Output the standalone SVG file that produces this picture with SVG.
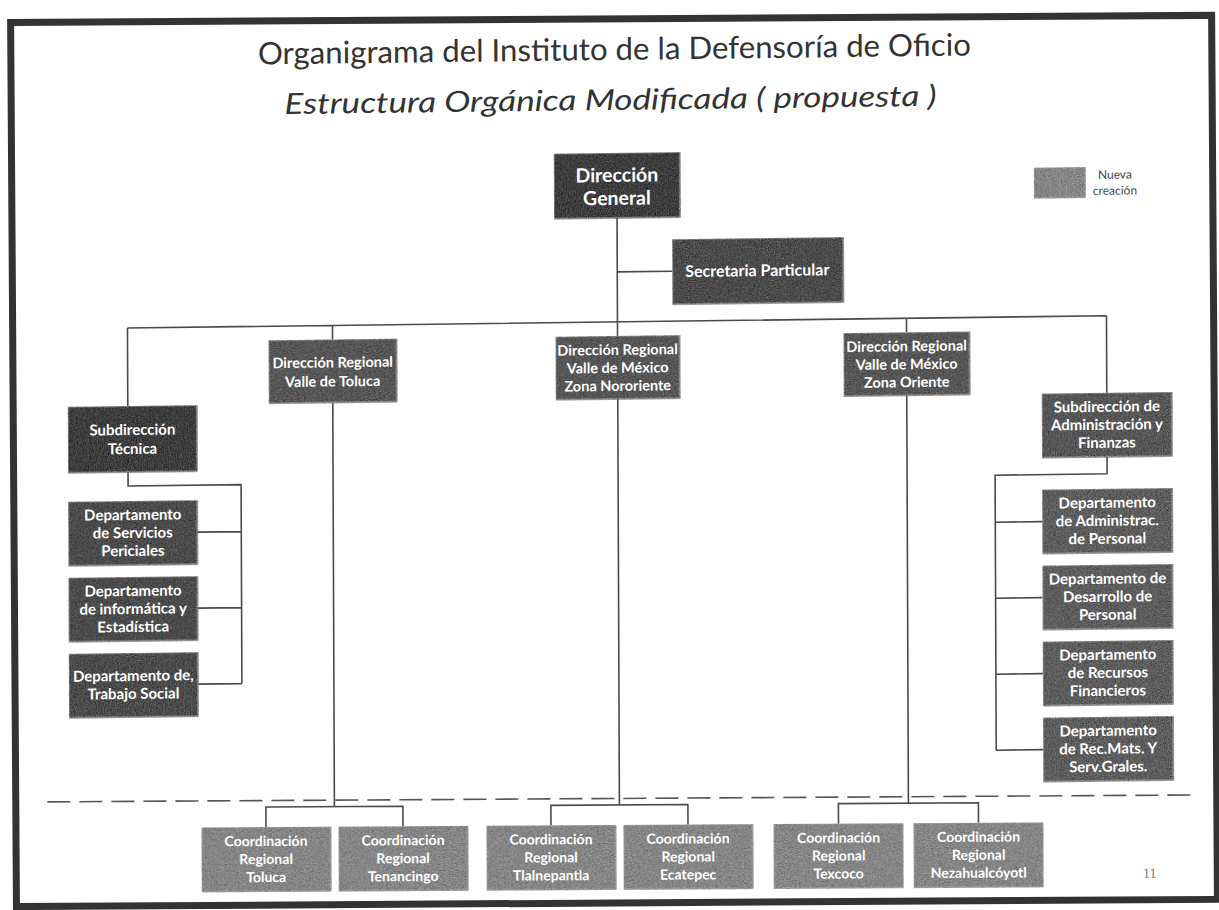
<svg xmlns="http://www.w3.org/2000/svg" width="1219" height="910" viewBox="0 0 1219 910">
<defs>
<filter id="grain" x="0" y="0" width="100%" height="100%" color-interpolation-filters="sRGB">
<feTurbulence type="fractalNoise" baseFrequency="0.85" numOctaves="2" seed="7" result="n"/>
<feColorMatrix in="n" type="matrix" values="0.33 0.33 0.33 0 0  0.33 0.33 0.33 0 0  0.33 0.33 0.33 0 0  0 0 0 0 1" result="g"/>
<feComposite in="SourceGraphic" in2="g" operator="arithmetic" k1="0" k2="1" k3="0.9" k4="-0.45" result="m"/>
<feComposite in="m" in2="SourceAlpha" operator="in"/>
</filter>
<style>
.box{stroke:#9a9a9a;stroke-width:1.2;filter:url(#grain)}
.d1{fill:#3e3e3e}
.d2{fill:#4c4c4c}
.d3{fill:#575757}
.d4{fill:#5e5e5e}
.nw{fill:#868686}
.t{font-family:Lato,"Open Sans","Liberation Sans",sans-serif;font-weight:bold;fill:#ffffff;text-anchor:middle;font-size:15px}
.s{font-size:14.5px}
.b{font-size:14px}
.dg{font-size:19.5px}
.sp{font-size:16px}
.c{fill:none;stroke:#4a4a4a;stroke-width:1.6}
.dash{fill:none;stroke:#555555;stroke-width:1.6;stroke-dasharray:23 9}
.title{font-family:Lato,"Open Sans","Liberation Sans",sans-serif;fill:#333333;text-anchor:middle}
.lg{font-family:Lato,"Open Sans",sans-serif;font-size:12px;fill:#444444;text-anchor:middle}
</style>
</defs>
<rect width="1219" height="910" fill="#ffffff"/>
<g id="frame" transform="matrix(1,-0.006,0.0066,1,-3,3.66)">
<rect x="13.5" y="19" width="1201" height="884" fill="none" stroke="#333333" stroke-width="7"/>
</g>
<g id="slide" transform="matrix(1,-0.0125,0.004,1,-1.82,7.625)">
<g id="title">
<text class="title" x="616" y="60" font-size="31" textLength="713" lengthAdjust="spacingAndGlyphs">Organigrama del Instituto de la Defensoría de Oficio</text>
<text class="title" x="612" y="110" font-size="29" font-style="italic" textLength="652" lengthAdjust="spacingAndGlyphs">Estructura Orgánica Modificada ( propuesta )</text>
</g>
<g id="connectors">
<path class="c" d="M618 218V322M618 272H673M128 322H1107M128 322V400M333 322V336M618 322V336M907 322V336M1107 322V399"/>
<path class="c" d="M128 466V480H241V679M197 527H241M197 603H241M197 679H241"/>
<path class="c" d="M1107 463V480H995V755M995 527H1042M995 603H1042M995 679H1042M995 755H1042"/>
<path class="c" d="M333 399V803.2M618 399V805.1M907 399V806.9"/>
</g>
<g id="legend">
<rect class="box nw" x="1035" y="173" width="51" height="30"/>
<text class="lg" x="1116" y="185">Nueva</text>
<text class="lg" x="1116" y="201">creación</text>
</g>
<g id="n-dg">
<rect class="box d1" x="555" y="153" width="126" height="65"/>
<text class="t dg" x="618" y="182">Dirección</text>
<text class="t dg" x="618" y="205">General</text>
</g>
<g id="n-sec">
<rect class="box d2" x="673" y="240" width="171" height="65"/>
<text class="t sp" x="758" y="278">Secretaria Particular</text>
</g>
<g id="n-drtoluca">
<rect class="box d3" x="269" y="336" width="128" height="63"/>
<text class="t s" x="333" y="364">Dirección Regional</text>
<text class="t s" x="333" y="383">Valle de Toluca</text>
</g>
<g id="n-drnororiente">
<rect class="box d3" x="556" y="336" width="124" height="63"/>
<text class="t s" x="618" y="355">Dirección Regional</text>
<text class="t s" x="618" y="373">Valle de México</text>
<text class="t s" x="618" y="391">Zona Nororiente</text>
</g>
<g id="n-droriente">
<rect class="box d3" x="844" y="336" width="126" height="63"/>
<text class="t s" x="907" y="355">Dirección Regional</text>
<text class="t s" x="907" y="373">Valle de México</text>
<text class="t s" x="907" y="391">Zona Oriente</text>
</g>
<g id="n-subtec">
<rect class="box d1" x="68" y="400" width="129" height="66"/>
<text class="t" x="132.5" y="429">Subdirección</text>
<text class="t" x="132.5" y="448">Técnica</text>
</g>
<g id="n-servper">
<rect class="box d2" x="68" y="495" width="129" height="64"/>
<text class="t" x="132.5" y="514">Departamento</text>
<text class="t" x="132.5" y="532">de Servicios</text>
<text class="t" x="132.5" y="550">Periciales</text>
</g>
<g id="n-informatica">
<rect class="box d2" x="68" y="571" width="129" height="64"/>
<text class="t" x="132.5" y="590">Departamento</text>
<text class="t" x="132.5" y="608">de informática y</text>
<text class="t" x="132.5" y="626">Estadística</text>
</g>
<g id="n-trabajo">
<rect class="box d2" x="68" y="647" width="129" height="64"/>
<text class="t" x="132.5" y="675">Departamento de,</text>
<text class="t" x="132.5" y="693">Trabajo Social</text>
</g>
<g id="n-subadmin">
<rect class="box d3" x="1042" y="399" width="130" height="64"/>
<text class="t" x="1107" y="418">Subdirección de</text>
<text class="t" x="1107" y="436">Administración y</text>
<text class="t" x="1107" y="454">Finanzas</text>
</g>
<g id="n-admper">
<rect class="box d4" x="1042" y="495" width="130" height="64"/>
<text class="t" x="1107" y="514">Departamento</text>
<text class="t" x="1107" y="532">de Administrac.</text>
<text class="t" x="1107" y="550">de Personal</text>
</g>
<g id="n-desper">
<rect class="box d4" x="1042" y="571" width="130" height="64"/>
<text class="t" x="1107" y="590">Departamento de</text>
<text class="t" x="1107" y="608">Desarrollo de</text>
<text class="t" x="1107" y="626">Personal</text>
</g>
<g id="n-recfin">
<rect class="box d4" x="1042" y="647" width="130" height="64"/>
<text class="t" x="1107" y="666">Departamento</text>
<text class="t" x="1107" y="684">de Recursos</text>
<text class="t" x="1107" y="702">Financieros</text>
</g>
<g id="n-recmat">
<rect class="box d4" x="1042" y="723" width="130" height="64"/>
<text class="t" x="1107" y="742">Departamento</text>
<text class="t" x="1107" y="760">de Rec.Mats. Y</text>
<text class="t" x="1107" y="778">Serv.Grales.</text>
</g>
</g>
<g id="bottom" transform="matrix(1,-0.006,0.004,1,-1.82,3.66)">
<g id="connectors-bottom">
<path class="dash" d="M46 798.5H1192"/>
<path class="c" d="M264.5 825V805H401.5V825M549.5 825V805H686.5V825M837 825V805H977V825"/>
</g>
<g id="n-ctoluca">
<rect class="box nw" x="200" y="825" width="129" height="64"/>
<text class="t b" x="264.5" y="844">Coordinación</text>
<text class="t b" x="264.5" y="862">Regional</text>
<text class="t b" x="264.5" y="880">Toluca</text>
</g>
<g id="n-ctenancingo">
<rect class="box nw" x="337" y="825" width="129" height="64"/>
<text class="t b" x="401.5" y="844">Coordinación</text>
<text class="t b" x="401.5" y="862">Regional</text>
<text class="t b" x="401.5" y="880">Tenancingo</text>
</g>
<g id="n-ctlalnepantla">
<rect class="box nw" x="485" y="825" width="129" height="64"/>
<text class="t b" x="549.5" y="844">Coordinación</text>
<text class="t b" x="549.5" y="862">Regional</text>
<text class="t b" x="549.5" y="880">Tlalnepantla</text>
</g>
<g id="n-cecatepec">
<rect class="box nw" x="622" y="825" width="129" height="64"/>
<text class="t b" x="686.5" y="844">Coordinación</text>
<text class="t b" x="686.5" y="862">Regional</text>
<text class="t b" x="686.5" y="880">Ecatepec</text>
</g>
<g id="n-ctexcoco">
<rect class="box nw" x="772.5" y="825" width="129" height="64"/>
<text class="t b" x="837" y="844">Coordinación</text>
<text class="t b" x="837" y="862">Regional</text>
<text class="t b" x="837" y="880">Texcoco</text>
</g>
<g id="n-cneza">
<rect class="box nw" x="912.5" y="825" width="129" height="64"/>
<text class="t b" x="977" y="844">Coordinación</text>
<text class="t b" x="977" y="862">Regional</text>
<text class="t b" x="977" y="880">Nezahualcóyotl</text>
</g>
<text x="1148" y="881" font-family="'Liberation Serif',serif" font-size="14" fill="#777777" text-anchor="middle">11</text>
</g>
</svg>
